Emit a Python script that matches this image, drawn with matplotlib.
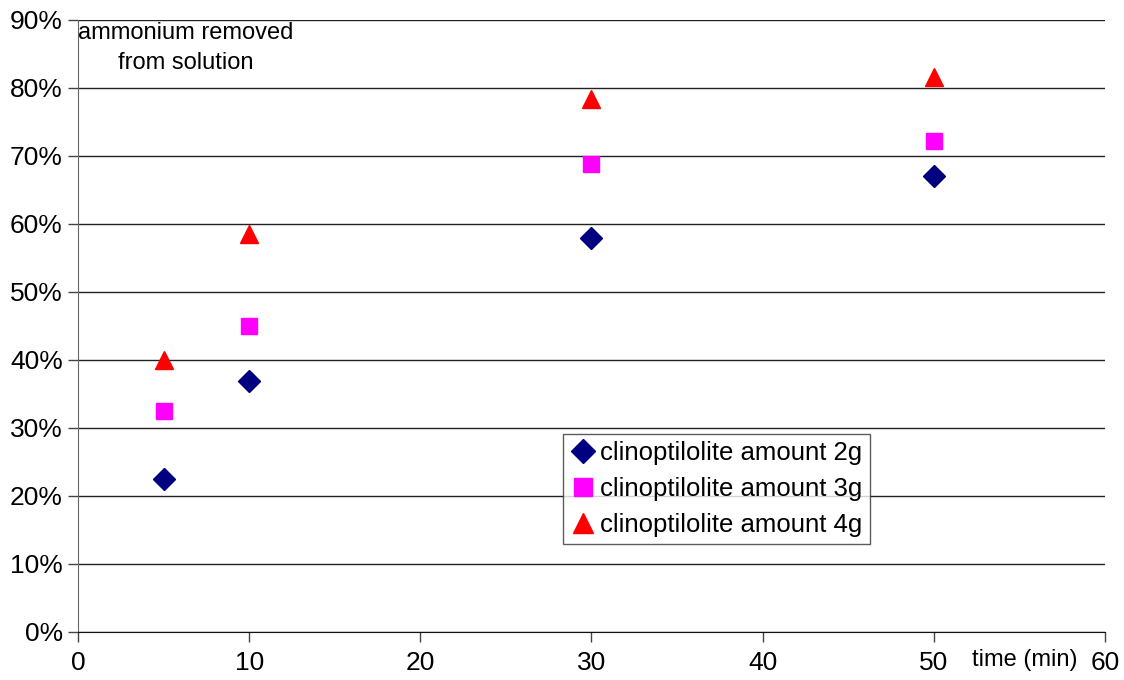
import matplotlib.pyplot as plt
from matplotlib.ticker import PercentFormatter

plt.rcParams['font.family'] = ['Liberation Sans', 'DejaVu Sans']

# tempo de contato (min) e fração de amônio removida
tempo = [5, 10, 30, 50]
remov_2g = [22.5, 36.9, 58.0, 67.0]
remov_3g = [32.5, 45.0, 68.8, 72.2]
remov_4g = [40.0, 58.5, 78.4, 81.6]

rotulos = ['clinoptilolite amount 2g',
           'clinoptilolite amount 3g',
           'clinoptilolite amount 4g']

fig = plt.figure(figsize=(11.24, 6.8), dpi=100)
ax = fig.add_axes([0.0694, 0.0706, 0.9136, 0.90])

ax.plot(tempo, remov_2g, 'D', color='#000080', markersize=11.5, label=rotulos[0], zorder=3)
ax.plot(tempo, remov_3g, 's', color='#ff00ff', markersize=12, label=rotulos[1], zorder=3)
ax.plot(tempo, remov_4g, '^', color='#ff0000', markersize=13, label=rotulos[2], zorder=3)

#Eixos
ax.set_xlim(0, 60)
ax.set_ylim(0, 90)
ax.set_xticks(range(0, 61, 10))
ax.set_yticks(range(0, 91, 10))
ax.yaxis.set_major_formatter(PercentFormatter(decimals=0))
ax.tick_params(labelsize=19, length=7, color='#444444', width=1)
ax.tick_params(axis='x', pad=7)
ax.tick_params(axis='y', pad=4)
ax.grid(axis='y', color='#222222', linewidth=1)
ax.set_axisbelow(True)

for lado in ['top', 'right']:
    ax.spines[lado].set_visible(False)
ax.spines['left'].set_color('#666666')
ax.spines['bottom'].set_color('#111111')

ax.text(6.3, 89.7, 'ammonium removed\nfrom solution', ha='center', va='top',
        fontsize=17, linespacing=1.45)
ax.text(55.3, -4.1, 'time (min)', ha='center', va='center', fontsize=17,
        clip_on=False)

leg = ax.legend(loc='upper left', bbox_to_anchor=(0.472, 0.324), fontsize=18.5,
                frameon=True, fancybox=False, edgecolor='#333333',
                handletextpad=0.15, borderpad=0.3, labelspacing=0.45,
                handlelength=1.0, borderaxespad=0, markerscale=1.1)
leg.get_frame().set_linewidth(1)

plt.savefig('out.png', dpi=100)
